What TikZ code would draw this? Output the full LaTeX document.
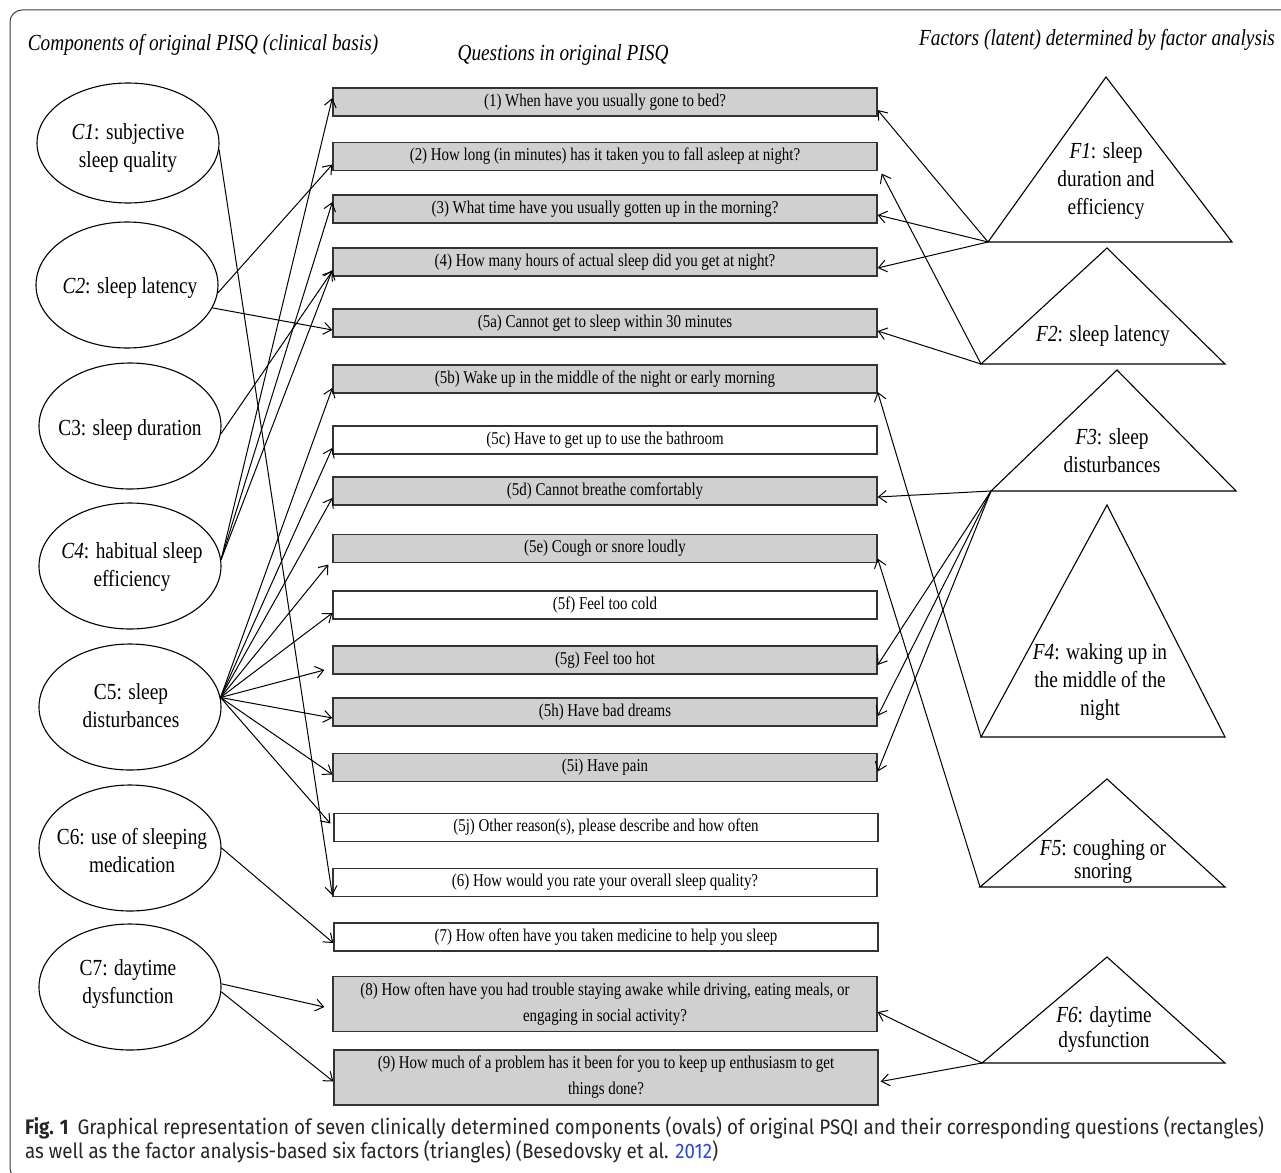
\documentclass[tikz,border=0pt]{standalone}
\usepackage{fontspec}
\setmainfont{Liberation Serif}
\newfontfamily\condf[FakeStretch=0.84]{Liberation Serif}
\newfontfamily\boxf[FakeStretch=0.83]{Liberation Serif}
\newfontfamily\capf[FakeStretch=0.895]{Fira Sans}
\usetikzlibrary{shapes.geometric,arrows.meta,calc}
\definecolor{boxgray}{RGB}{208,208,208}
\definecolor{linkblue}{RGB}{40,70,220}
\begin{document}
\begin{tikzpicture}[x=1pt,y=-1pt,
  oval/.style={ellipse, draw, line width=1.1pt, minimum width=182pt, minimum height=126pt, inner sep=0pt},
  ovtext/.style={align=center, inner sep=0pt, font=\condf\fontsize{23}{28}\selectfont},
  qbox/.style={draw=black!80, line width=1.3pt, minimum width=544pt, minimum height=28pt, inner sep=0pt, align=center, font=\boxf\fontsize{18}{26}\selectfont},
  shaded/.style={qbox, fill=boxgray},
  plain/.style={qbox, fill=white},
  tri/.style={draw, line width=1.1pt, line join=miter},
  ftext/.style={align=center, font=\condf\fontsize{23}{28}\selectfont},
  ttl/.style={font=\condf\itshape\fontsize{23}{26}\selectfont},
  link/.style={-{Straight Barb[length=8pt,width=12pt]}, line width=1pt},
  capt/.style={anchor=base west, inner sep=0pt, text=black!85, font=\capf\fontsize{21}{24}\selectfont}
]
\useasboundingbox (0,0) rectangle (1281,1172);
\clip (0,0) rectangle (1281,1172);
% frame
\draw[line width=1pt, black!75, rounded corners=12pt] (10,10) rectangle (1300,1180);

% titles
\node[ttl] (t1) at (203,45) {Components of original PISQ (clinical basis)};
\node[ttl] (t2) at (563,55) {Questions in original PISQ};
\node[ttl] (t3) at (1097,40) {Factors (latent) determined by factor analysis};

% ovals
\node[oval, minimum height=120pt] (c1) at (128,143) {};
\node[oval] (c2) at (127,285) {};
\node[oval] (c3) at (130,426) {};
\node[oval] (c4) at (130,566) {};
\node[oval] (c5) at (130,707) {};
\node[oval] (c6) at (130,848) {};
\node[oval] (c7) at (130,987) {};
\node[ovtext] (c1t) at (128,148) {{\itshape C1}: subjective\\sleep quality};
\node[ovtext] (c2t) at (130,288) {{\itshape C2}: sleep latency};
\node[ovtext] (c3t) at (130,430) {C3: sleep duration};
\node[ovtext] (c4t) at (132,567) {{\itshape C4}: habitual sleep\\efficiency};
\node[ovtext] (c5t) at (131,706) {C5: sleep\\disturbances};
\node[ovtext] (c6t) at (132,851) {C6: use of sleeping\\medication};
\node[ovtext] (c7t) at (128,984) {C7: daytime\\dysfunction};

% questions
\node[shaded] (q1) at (605,102) {(1) When have you usually gone to bed?};
\node[shaded] (q2) at (605,156.5) {(2) How long (in minutes) has it taken you to fall asleep at night?};
\node[shaded] (q3) at (605,209) {(3) What time have you usually gotten up in the morning?};
\node[shaded] (q4) at (605,262) {(4) How many hours of actual sleep did you get at night?};
\node[shaded] (q5a) at (605,323) {(5a) Cannot get to sleep within 30 minutes};
\node[shaded] (q5b) at (605,379) {(5b) Wake up in the middle of the night or early morning};
\node[plain] (q5c) at (605,440) {(5c) Have to get up to use the bathroom};
\node[shaded] (q5d) at (605,491) {(5d) Cannot breathe comfortably};
\node[shaded] (q5e) at (605,548.5) {(5e) Cough or snore loudly};
\node[plain] (q5f) at (605,605) {(5f) Feel too cold};
\node[shaded] (q5g) at (605,660) {(5g) Feel too hot};
\node[shaded] (q5h) at (605,712) {(5h) Have bad dreams};
\node[shaded] (q5i) at (605,767.5) {(5i) Have pain};
\node[plain] (q5j) at (606,827.5) {(5j) Other reason(s), please describe and how often};
\node[plain] (q6) at (605,882.5) {(6) How would you rate your overall sleep quality?};
\node[plain] (q7) at (606,937) {(7) How often have you taken medicine to help you sleep};
\node[shaded, minimum height=55pt] (q8) at (605,1004) {(8) How often have you had trouble staying awake while driving, eating meals, or\\engaging in social activity?};
\node[shaded, minimum height=55pt] (q9) at (606,1077.5) {(9) How much of a problem has it been for you to keep up enthusiasm to get\\things done?};

% triangles
\draw[tri] (1106,77) -- (988,242) -- (1232,242) -- cycle;
\draw[tri] (1107,248) -- (981,364) -- (1225,364) -- cycle;
\draw[tri] (1117,370) -- (991,491) -- (1236,491) -- cycle;
\draw[tri] (1107,505) -- (981,737) -- (1225,737) -- cycle;
\draw[tri] (1107,779) -- (980,887) -- (1225,887) -- cycle;
\draw[tri] (1107,957) -- (982,1063) -- (1225,1063) -- cycle;
\coordinate (f1) at (988,242);
\coordinate (f2) at (981,364);
\coordinate (f3) at (991,491);
\coordinate (f4) at (981,737);
\coordinate (f5) at (980,887);
\coordinate (f6) at (982,1063);
\node[ftext] (l1) at (1106,181) {{\itshape F1}: sleep\\duration and\\efficiency};
\node[ftext] (l2) at (1103,336) {{\itshape F2}: sleep latency};
\node[ftext] (l3) at (1112,451) {{\itshape F3}: sleep\\disturbances};
\node[ftext] (l4) at (1100,682) {{\itshape F4}: waking up in\\the middle of the\\night};
\node[ftext] (l5) at (1103,861) {{\itshape F5}: coughing or\\[-5pt]snoring};
\node[ftext] (l6) at (1104,1029) {{\itshape F6}: daytime\\[-3pt]dysfunction};

% connectors from components
\draw[link] (c1.-4) -- ([yshift=2pt]q6.south west);
\draw[link] (c2.-5) -- ([yshift=-8pt]q2.west);
\draw[link] (c2.-15) -- ([yshift=-7pt]q5a.west);
\draw[link] (c3.-5) -- ([yshift=-9pt]q4.west);
\draw[link] (c4.4) -- ([yshift=4pt]q1.west);
\draw[link] (c4.4) -- ([yshift=7pt]q3.west);
\draw[link] (c4.4) -- ([yshift=-8pt]q4.west);
\draw[link] (c5.6) -- ([yshift=-9pt]q5b.west);
\draw[link] (c5.6) -- ([yshift=-8pt]q5c.west);
\draw[link] (c5.6) -- ([yshift=-7pt]q5d.west);
\draw[link] (c5.6) -- ([xshift=-4pt,yshift=-16pt]q5e.west);
\draw[link] (c5.6) -- ([yshift=-8pt]q5f.west);
\draw[link] (c5.6) -- ([xshift=-8pt,yshift=-10pt]q5g.west);
\draw[link] (c5.6) -- ([yshift=-6pt]q5h.west);
\draw[link] (c5.6) -- ([yshift=-7pt]q5i.west);
\draw[link] (c5.6) -- ([xshift=-3pt,yshift=4pt]q5j.west);
\draw[link] (c6.east) -- ([yshift=-6pt]q7.west);
\draw[link] (c7.2) -- ([xshift=-8pt,yshift=-3pt]q8.west);
\draw[link] (c7.-3) -- ([yshift=-4pt]q9.west);

% connectors from factors
\draw[link] (f1) -- ([yshift=-8pt]q1.east);
\draw[link] (f1) -- ([yshift=-6pt]q3.east);
\draw[link] (f1) -- ([yshift=-6pt]q4.east);
\draw[link] (f2) -- ([xshift=4pt,yshift=-17pt]q2.east);
\draw[link] (f2) -- ([yshift=-8pt]q5a.east);
\draw[link] (f3) -- ([yshift=-6pt]q5d.east);
\draw[link] (f3) -- ([yshift=-5pt]q5g.east);
\draw[link] (f3) -- ([yshift=-4pt]q5h.east);
\draw[link] (f3) -- ([yshift=-4pt]q5i.east);
\draw[link] (f4) -- ([yshift=-13pt]q5b.east);
\draw[link] (f5) -- ([yshift=-10pt]q5e.east);
\draw[link] (f6) -- ([yshift=-8pt]q8.east);
\draw[link] (f6) -- ([xshift=2pt,yshift=-4pt]q9.east);

% caption
\node[capt] (cap1) at (25,1134) {\textbf{Fig. 1}\hspace{9pt}Graphical representation of seven clinically determined components (ovals) of original PSQI and their corresponding questions (rectangles)};
\node[capt] (cap2) at (25,1158) {as well as the factor analysis-based six factors (triangles) (Besedovsky et al. \textcolor{linkblue}{2012})};
\end{tikzpicture}
\end{document}
